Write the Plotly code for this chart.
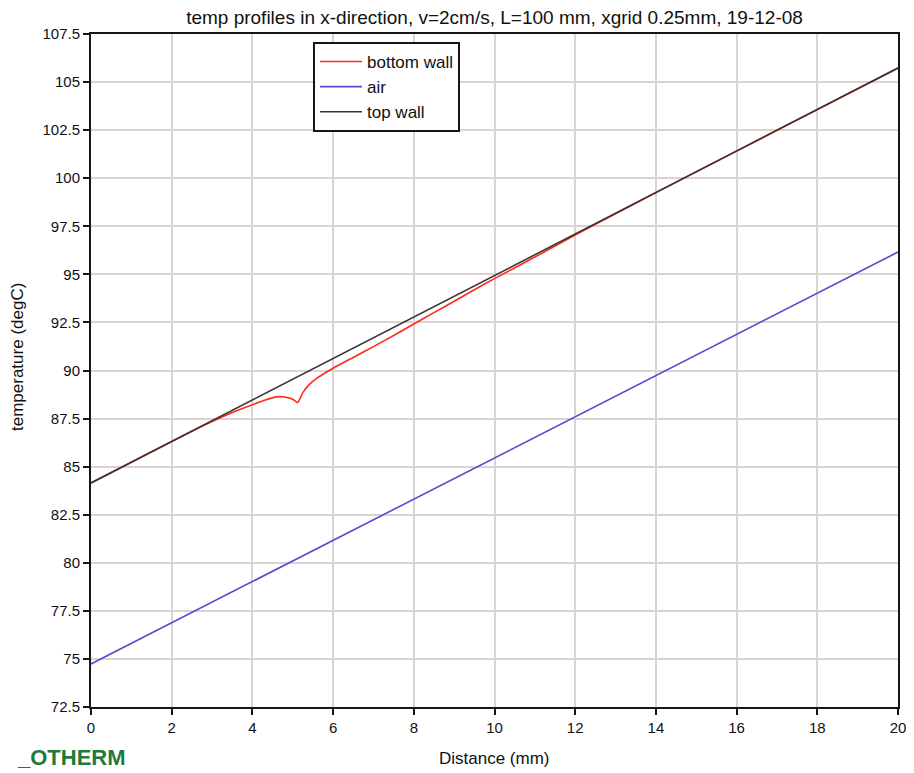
import plotly.graph_objects as go

# Distance (mm)
x_top = [0, 2, 4, 6, 8, 10, 12, 14, 16, 18, 20]
top_wall = [84.15, 86.31, 88.47, 90.62, 92.78, 94.94, 97.10, 99.26, 101.41, 103.57, 105.73]

x_air = [0, 2, 4, 6, 8, 10, 12, 14, 16, 18, 20]
air = [74.74, 76.88, 79.02, 81.17, 83.31, 85.45, 87.59, 89.73, 91.88, 94.02, 96.16]

x_bottom = [0, 1, 2, 2.5, 3, 3.5, 4, 4.3, 4.6, 4.8, 5.0, 5.12, 5.25, 5.4, 5.6, 6.0,
            6.5, 7, 7.5, 8, 8.5, 9, 9.5, 10, 11, 12, 13, 14, 16, 18, 20]
bottom_wall = [84.15, 85.23, 86.31, 86.84, 87.35, 87.82, 88.22, 88.45, 88.63, 88.62,
               88.50, 88.33, 88.85, 89.25, 89.60, 90.12, 90.68, 91.24, 91.82, 92.42,
               93.01, 93.60, 94.20, 94.78, 95.90, 97.05, 98.15, 99.25, 101.41, 103.57, 105.73]

x_ticks = [0, 2, 4, 6, 8, 10, 12, 14, 16, 18, 20]
y_ticks = [72.5, 75, 77.5, 80, 82.5, 85, 87.5, 90, 92.5, 95, 97.5, 100, 102.5, 105, 107.5]
y_labels = ["72.5", "75", "77.5", "80", "82.5", "85", "87.5", "90", "92.5", "95",
            "97.5", "100", "102.5", "105", "107.5"]

FONT = "Liberation Sans, Arial, sans-serif"

# page is rendered with an 8px body margin
W, H = 906, 765
ML, MR, MT, MB = 83, 16, 26, 66
PW, PH = W - ML - MR, H - MT - MB

fig = go.Figure()
fig.add_trace(go.Scatter(x=x_bottom, y=bottom_wall, mode="lines", name="bottom wall",
                         line=dict(color="#ff2a1a", width=1.6, shape="spline", smoothing=0.5)))
fig.add_trace(go.Scatter(x=x_air, y=air, mode="lines", name="air",
                         line=dict(color="#5a48d0", width=1.6)))
fig.add_trace(go.Scatter(x=x_top, y=top_wall, mode="lines", name="top wall",
                         line=dict(color="#3a3434", width=1.6)))

axis_common = dict(
    showline=True, linecolor="#1a1414", linewidth=2, mirror=True,
    showgrid=True, gridcolor="#dcd2d2", gridwidth=2,
    ticks="outside", ticklen=6, tickwidth=2, tickcolor="#1a1414",
    tickfont=dict(family=FONT, size=15, color="#111"),
    zeroline=False, automargin=False,
)

fig.update_layout(
    width=W, height=H,
    margin=dict(l=ML, r=MR, t=MT, b=MB),
    paper_bgcolor="white", plot_bgcolor="white",
    title=dict(text="temp profiles in x-direction, v=2cm/s, L=100 mm, xgrid 0.25mm, 19-12-08",
               x=(ML + PW / 2) / W, xanchor="center", y=1 - 9 / H, yanchor="middle",
               font=dict(family=FONT, size=19, color="#111")),
    xaxis=dict(axis_common, range=[0, 20], tickvals=x_ticks),
    yaxis=dict(axis_common, range=[72.5, 107.5], tickvals=y_ticks, ticktext=y_labels),
    legend=dict(x=(305 - ML) / PW, y=1 - (34 - MT) / PH, xanchor="left", yanchor="top",
                bgcolor="white", bordercolor="#1a1414", borderwidth=2,
                font=dict(family=FONT, size=17, color="#111"),
                itemwidth=42, tracegroupgap=0),
    showlegend=True,
)

# axis titles
fig.add_annotation(text="Distance (mm)", xref="paper", yref="paper",
                   x=0.5, y=-(750 - (MT + PH)) / PH, xanchor="center", yanchor="middle",
                   showarrow=False, font=dict(family=FONT, size=17, color="#111"))
fig.add_annotation(text="temperature (degC)", xref="paper", yref="paper", textangle=-90,
                   x=(9 - ML) / PW, y=1 - (349 - MT) / PH, xanchor="center", yanchor="middle",
                   showarrow=False, font=dict(family=FONT, size=17, color="#111"))

# logo text
fig.add_annotation(text="<b>_OTHERM</b>", xref="paper", yref="paper",
                   x=(7 - ML) / PW, y=-(764 - (MT + PH)) / PH, xanchor="left", yanchor="bottom",
                   showarrow=False, font=dict(family=FONT, size=22, color="#1e7a3c"))

fig.write_html("out.html")
